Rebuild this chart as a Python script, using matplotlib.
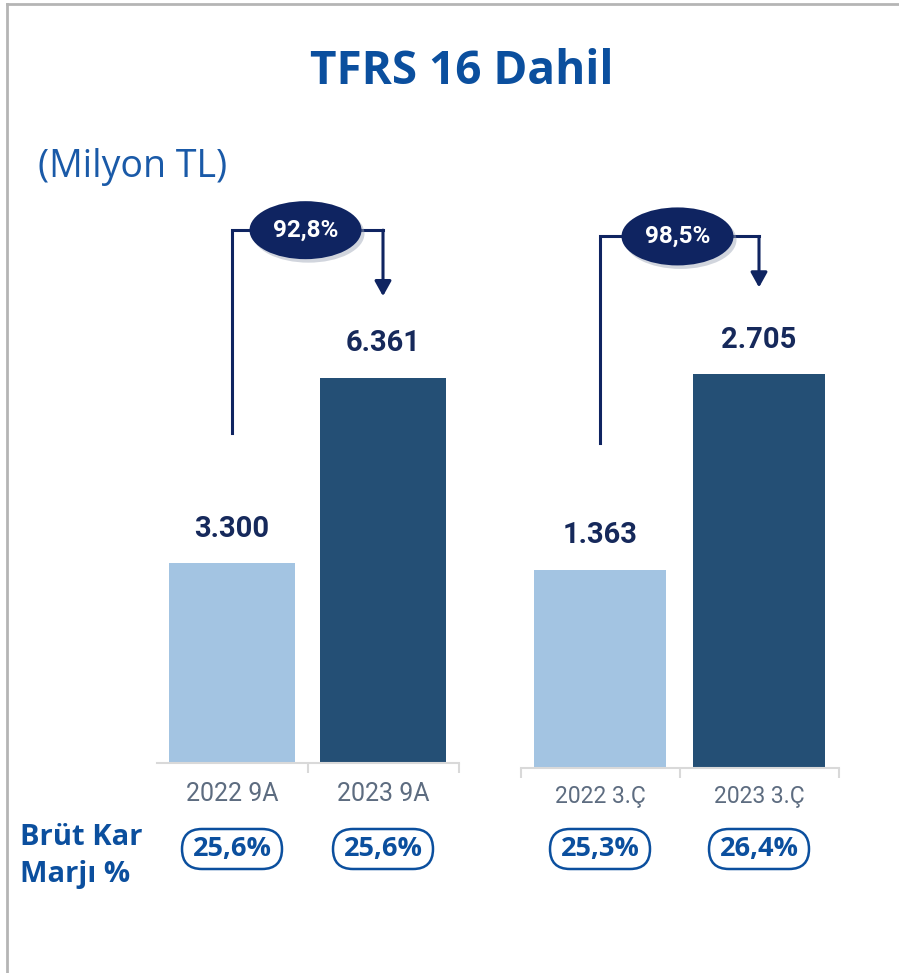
import matplotlib
matplotlib.use('Agg')
import matplotlib.pyplot as plt
from matplotlib.patches import Ellipse, FancyBboxPatch
from matplotlib.lines import Line2D

# data
labels_9a = ['2022 9A', '2023 9A']
values_9a = [3300, 6361]
labels_q3 = ['2022 3.Ç', '2023 3.Ç']
values_q3 = [1363, 2705]
growth = ['92,8%', '98,5%']
margins_9a = ['25,6%', '25,6%']
margins_q3 = ['25,3%', '26,4%']

LIGHT = '#a3c4e2'
DARK = '#244f75'
NAVY = '#0f2461'
BLUE = '#0b4f9e'
VAL = '#16295b'
TICK = '#5d6c80'

W, H = 899, 973
fig = plt.figure(figsize=(W / 100, H / 100), dpi=100)


def fx(px):
    return px / W


def fy(py):
    return 1 - py / H


# two panels with their own scale
ax1 = fig.add_axes([fx(156.5), fy(763), 302 / W, (763 - 200) / H])
ax2 = fig.add_axes([fx(520.5), fy(768), 318 / W, (768 - 200) / H])
ax1.set_ylim(0, 563 / 0.0605)
ax2.set_ylim(0, 568 / 0.1455)

for ax, labels, values, minors, pad, fs in [
        (ax1, labels_9a, values_9a, [0.5, 1.5], 14, 18),
        (ax2, labels_q3, values_q3, [-0.5, 0.5, 1.5], 12, 16.5)]:
    ax.set_xlim(-0.5, 1.5)
    bars = ax.bar([0, 1], values, width=0.83, color=[LIGHT, DARK])
    ax.bar_label(bars, labels=[f'{v:,}'.replace(',', '.') for v in values],
                 padding=15, fontsize=21, fontweight='bold', color=VAL,
                 family='Roboto')
    for s in ['left', 'right', 'top']:
        ax.spines[s].set_visible(False)
    ax.spines['bottom'].set_color('#d9d9d9')
    ax.spines['bottom'].set_linewidth(1.5)
    ax.set_yticks([])
    ax.set_xticks([0, 1])
    ax.set_xticklabels(labels, fontsize=fs, color=TICK, family='Roboto')
    ax.tick_params(axis='x', which='major', length=0, pad=pad)
    ax.set_xticks(minors, minor=True)
    ax.tick_params(axis='x', which='minor', length=7, width=1.5, color='#d9d9d9')


def to_in(ax, x, y):
    d = ax.transData.transform((x, y))
    return d / fig.dpi


def up(ax, v, px):
    d = ax.transData.transform((0, v))
    return ax.transData.inverted().transform((d[0], d[1] + px))[1]


# growth brackets
for ax, values, g, offs in [(ax1, values_9a, growth[0], (130, 148, 82)),
                            (ax2, values_q3, growth[1], (127, 138, 87))]:
    yb = up(ax, values[0], offs[0])
    yt = up(ax, values[1], offs[1])
    ytip = up(ax, values[1], offs[2])
    ax.plot([0, 0, 1], [yb, yt, yt], color=NAVY, lw=2.2, clip_on=False,
            solid_joinstyle='miter')
    ax.annotate('', xy=(1, ytip), xytext=(1, yt), annotation_clip=False,
                arrowprops=dict(arrowstyle='-|>,head_length=0.45,head_width=0.25',
                                color=NAVY, lw=2.2, shrinkA=0, shrinkB=0,
                                mutation_scale=20))
    cx, cy = to_in(ax, 0.5, yt)
    cx -= 0.02
    fig.add_artist(Ellipse((cx + 0.03, cy - 0.035), 1.12, 0.58, color='#9aa3b5',
                           alpha=0.45, transform=fig.dpi_scale_trans, lw=0))
    fig.add_artist(Ellipse((cx, cy), 1.12, 0.58, color=NAVY,
                           transform=fig.dpi_scale_trans, lw=0))
    fig.text(cx, cy, g, ha='center', va='center', color='white', fontsize=17.5,
             fontweight='bold', family='Roboto', transform=fig.dpi_scale_trans)

# margin pills
for ax, margins in [(ax1, margins_9a), (ax2, margins_q3)]:
    for i, m in enumerate(margins):
        cx, _ = to_in(ax, i, 0)
        cy = (H - 849) / 100
        fig.add_artist(FancyBboxPatch((cx - 0.5, cy - 0.2), 1.0, 0.4,
                                      boxstyle='round,pad=0,rounding_size=0.2',
                                      fc='white', ec=BLUE, lw=1.8,
                                      transform=fig.dpi_scale_trans))
        fig.text(cx, cy, m, ha='center', va='center', color=BLUE, fontsize=19.5,
                 fontweight='bold', family='Open Sans',
                 transform=fig.dpi_scale_trans)

fig.text(fx(20), fy(845), 'Brüt Kar', ha='left', va='baseline', fontsize=21,
         fontweight='bold', color=BLUE, family='Open Sans')
fig.text(fx(20), fy(882), 'Marjı %', ha='left', va='baseline', fontsize=21,
         fontweight='bold', color=BLUE, family='Open Sans')

fig.text(fx(462), fy(72), 'TFRS 16 Dahil', ha='center', va='center',
         fontsize=33, fontweight='bold', color=BLUE, family='Open Sans')
fig.text(fx(38), fy(167), '(Milyon TL)', ha='left', va='center',
         fontsize=27, color='#1a5aa8', family='Open Sans')

# frame lines
fig.add_artist(Line2D([fx(7), 1], [fy(4), fy(4)], color='#b5b5b5', lw=2))
fig.add_artist(Line2D([fx(7), fx(7)], [0, fy(4)], color='#b5b5b5', lw=2))

plt.savefig('out.png', dpi=100)
